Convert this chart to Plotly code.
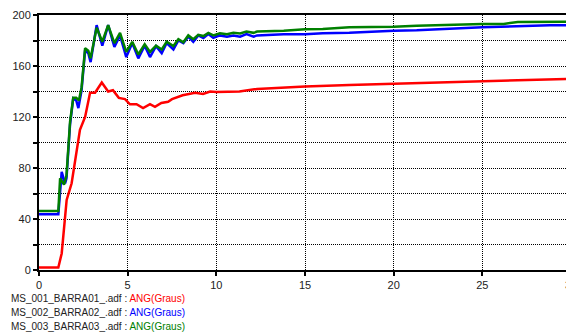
import plotly.graph_objects as go

# ---- data ----
t_red = [0, 1.09, 1.28, 1.47, 1.56, 1.84, 2.05, 2.31, 2.6, 2.88, 3.16, 3.54, 3.9, 4.17, 4.5,
         4.85, 5.13, 5.5, 5.87, 6.26, 6.54, 6.9, 7.28, 7.5, 8.1, 8.8, 9.25, 9.65, 10, 11.3,
         12.3, 13.8, 15, 17.5, 20, 21.9, 25, 27.5, 30]
ang_red = [2, 2, 13, 39, 55, 68, 88, 110, 120, 139, 139, 147, 140, 141, 135,
           134, 130, 130, 127, 130, 128, 131, 132, 134, 137, 139, 138, 140, 139.6, 140,
           142, 143, 144, 145, 146, 147, 148, 149.5, 150]

t_blue = [0, 1.09, 1.28, 1.47, 1.55, 1.75, 1.93, 2.1, 2.22, 2.4, 2.6, 2.78, 2.91, 3.25, 3.57,
          3.9, 4.25, 4.57, 4.92, 5.26, 5.6, 5.96, 6.26, 6.6, 6.92, 7.2, 7.58, 7.86, 8.14,
          8.42, 8.7, 8.98, 9.27, 9.55, 9.83, 10.2, 10.6, 10.96, 11.34, 11.7, 12.1, 12.3,
          13.8, 15, 16, 17.5, 20, 21.3, 25, 26.2, 27, 28.8, 30]
ang_blue = [43.7, 43.7, 77, 68, 72, 114, 134.6, 133, 127, 141, 172.5, 170, 163, 192, 176,
            192, 175, 184, 167, 178, 166, 176, 167, 175.5, 170, 178, 173, 180, 178,
            183, 179, 184, 182, 185, 182, 184, 183, 184, 183, 185, 183, 184,
            185, 185, 185.6, 186, 187.7, 188, 190.3, 191, 191.4, 192, 192]

t_green = [0, 1.09, 1.19, 1.41, 1.55, 1.75, 1.93, 2.1, 2.25, 2.4, 2.6, 2.78, 2.91, 3.25, 3.57,
           3.9, 4.25, 4.57, 4.92, 5.26, 5.6, 5.96, 6.26, 6.6, 6.92, 7.2, 7.58, 7.86, 8.14,
           8.42, 8.7, 8.98, 9.27, 9.55, 9.83, 10.2, 10.6, 10.96, 11.34, 11.7, 12.1, 12.3,
           13.8, 15, 16, 17.5, 20, 21.3, 25, 26.2, 27, 28.8, 30]
ang_green = [46.3, 46.3, 72, 67, 74, 116, 135, 135, 133, 143, 174, 172, 166, 190, 179,
             192, 178, 186, 171, 179, 169, 177, 171, 176, 173, 179, 175.7, 181, 178.6,
             184, 181, 184.5, 183.5, 186, 184, 185.6, 185, 186, 185.5, 187, 186, 187,
             187.7, 188.8, 189, 190.3, 190.8, 191.6, 193, 193, 194.5, 194.7, 194.7]

series_files = ["MS_001_BARRA01_.adf", "MS_002_BARRA02_.adf", "MS_003_BARRA03_.adf"]
series_var = "ANG(Graus)"
series_colors = ["#ff0000", "#0000ff", "#008000"]

x_ticks = [0, 5, 10, 15, 20, 25, 30]
y_ticks = [0, 20, 40, 60, 80, 100, 120, 140, 160, 180, 200]
y_ticklabels = ["0", "", "40", "", "80", "", "120", "", "160", "", "200"]

fig = go.Figure()
for tx, vy, col in zip([t_red, t_blue, t_green], [ang_red, ang_blue, ang_green], series_colors):
    fig.add_trace(go.Scatter(x=tx, y=vy, mode="lines",
                             line=dict(color=col, width=2.5), showlegend=False))

axis_common = dict(showline=True, linecolor="black", linewidth=2, mirror=True,
                   showgrid=True, gridcolor="black", gridwidth=1, griddash="1px,1px",
                   ticks="outside", ticklen=4, tickcolor="black", tickwidth=1.5,
                   zeroline=False, automargin=False, ticklabeloverflow="allow",
                   tickfont=dict(family="Liberation Sans, Arial", size=11, color="#222"))

fig.update_xaxes(range=[0, 30], tickvals=x_ticks, **axis_common)
fig.update_yaxes(range=[0, 200], tickvals=y_ticks, ticktext=y_ticklabels, **axis_common)

for i, (f, col) in enumerate(zip(series_files, series_colors)):
    fig.add_annotation(
        xref="paper", yref="paper", x=-0.0564, y=-0.11 - i * 0.0549,
        xanchor="left", yanchor="middle", showarrow=False,
        text=f"{f} : <span style='color:{col}'>{series_var}</span>",
        font=dict(family="Liberation Sans, Arial", size=10, color="#222"))

# page body has an 8px margin, so the figure is shrunk and offset accordingly
fig.update_layout(width=566, height=324, margin=dict(l=31, r=3, t=7, b=62),
                  paper_bgcolor="white", plot_bgcolor="white")

fig.write_html("out.html")
